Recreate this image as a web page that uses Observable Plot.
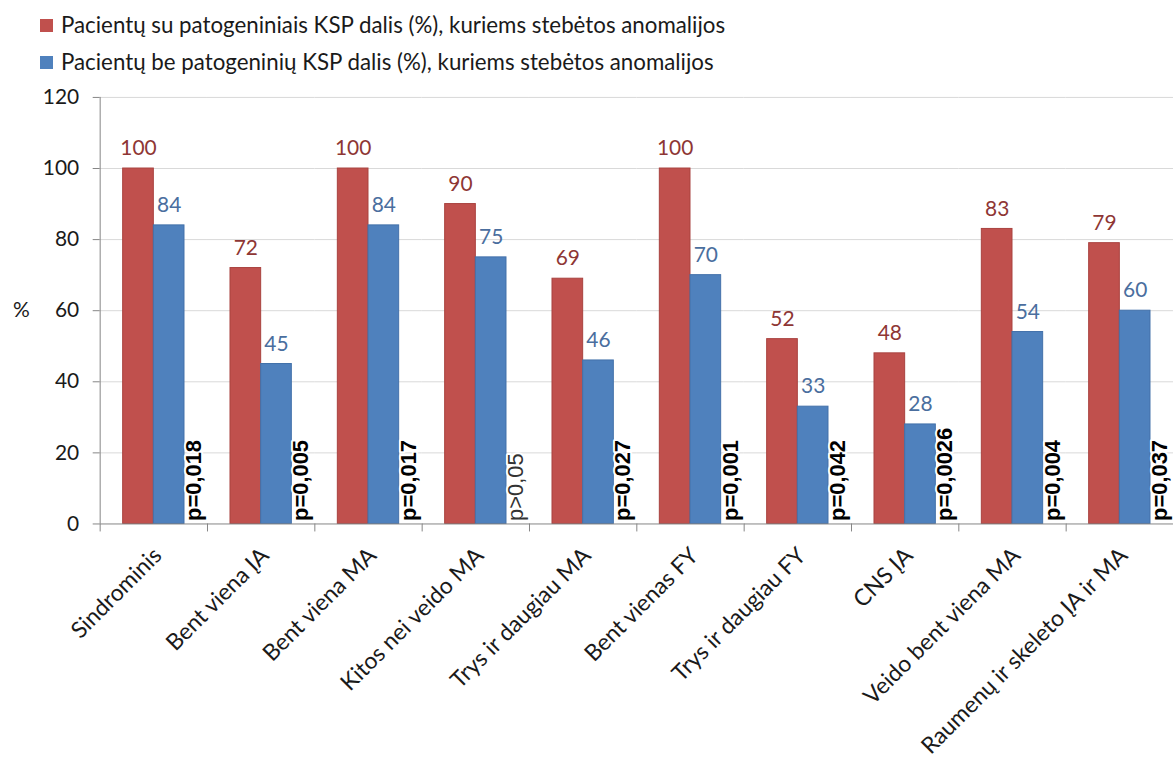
<!DOCTYPE html>
<html lang="lt">
<head>
<meta charset="utf-8">
<script src="https://cdn.jsdelivr.net/npm/d3@7"></script>
<script src="https://cdn.jsdelivr.net/npm/@observablehq/plot@0.6"></script>
<style>
  html, body { margin: 0; padding: 0; background: #fff; overflow: hidden; }
  #wrap { position: relative; width: 1173px; height: 758px; }
  .legend-item { position: absolute; left: 40px; display: flex; align-items: center; line-height: 26px;
    font-family: Lato, "Open Sans", sans-serif; font-size: 22.3px; color: #1a1a1a; white-space: nowrap; }
  .swatch { width: 13px; height: 13px; margin-right: 8px; }
  #chart { position: absolute; left: 0; top: 75px; }
</style>
</head>
<body>
<div id="wrap">
  <div id="legend"></div>
  <div id="chart"></div>
</div>
<script>
// Anomaly frequency in patients with / without pathogenic CNVs (KSP)
const categories = [
  "Sindrominis", "Bent viena ĮA", "Bent viena MA", "Kitos nei veido MA",
  "Trys ir daugiau MA", "Bent vienas FY", "Trys ir daugiau FY", "CNS ĮA",
  "Veido bent viena MA", "Raumenų ir skeleto ĮA ir MA"
];
const seriesNames = [
  "Pacientų su patogeniniais KSP dalis (%), kuriems stebėtos anomalijos",
  "Pacientų be patogeninių KSP dalis (%), kuriems stebėtos anomalijos"
];
const withKSP = [100, 72, 100, 90, 69, 100, 52, 48, 83, 79];
const withoutKSP = [84, 45, 84, 75, 46, 70, 33, 28, 54, 60];
const pLabels = ["p=0,018", "p=0,005", "p=0,017", "p>0,05", "p=0,027",
                 "p=0,001", "p=0,042", "p=0,0026", "p=0,004", "p=0,037"];
const yTicks = [0, 20, 40, 60, 80, 100, 120];

const barColors = ["#C0504D", "#4F81BD"];
const edgeColors = ["#A9423F", "#4371AA"];
const labelColors = ["#8E3634", "#4A6E9E"];

// legend
const legend = document.getElementById("legend");
seriesNames.forEach((name, i) => {
  const item = document.createElement("div");
  item.className = "legend-item";
  item.style.top = (i === 0 ? 12 : 49) + "px";
  const sw = document.createElement("span");
  sw.className = "swatch";
  sw.style.background = barColors[i];
  const tx = document.createElement("span");
  tx.textContent = name;
  item.append(sw, tx);
  legend.append(item);
});

const rows = categories.flatMap((c, i) => [
  {category: c, series: seriesNames[0], value: withKSP[i]},
  {category: c, series: seriesNames[1], value: withoutKSP[i]}
]);
const rowsA = rows.filter(d => d.series === seriesNames[0]);
const rowsB = rows.filter(d => d.series === seriesNames[1]);
const pRows = categories.map((c, i) => ({category: c, p: pLabels[i]}));
const pBold = pRows.filter(d => !d.p.startsWith("p>"));
const pPlain = pRows.filter(d => d.p.startsWith("p>"));

const W = 1177, ML = 100, MT = 22, MB = 233, H = 683;
const step = (W - ML) / categories.length;
const plotH = H - MT - MB;
const axisGray = "#868686";

const pStyle = {
  fx: "category", x: () => seriesNames[1], frameAnchor: "bottom", text: "p",
  rotate: -90, textAnchor: "start", lineAnchor: "middle", dx: 25, dy: -3,
  fontFamily: "'Liberation Sans', Arial, sans-serif", fontSize: 22,
  stroke: "#fff", strokeWidth: 4
};

const chart = Plot.plot({
  width: W, height: H,
  marginLeft: ML, marginRight: 0, marginTop: MT, marginBottom: MB,
  style: {fontFamily: "Lato, 'Open Sans', sans-serif", fontSize: "21px", color: "#1a1a1a", background: "transparent"},
  fx: {domain: categories, padding: 0, round: false, label: null},
  x: {domain: seriesNames, paddingInner: 0, paddingOuter: 0.75, round: false, axis: null},
  y: {domain: [0, 120], label: null},
  marks: [
    Plot.gridY(yTicks.filter(t => t > 0), {stroke: "#d9d9d9", strokeOpacity: 1}),
    Plot.axisY({ticks: yTicks, tickSize: 7, tickPadding: 14, label: null, stroke: axisGray, fill: "#1a1a1a", fontSize: 21}),
    Plot.ruleX([categories[0]], {fx: d => d, x: null, y1: 0, y2: 120, dx: -step / 2, stroke: axisGray}),
    Plot.frame({anchor: "left", insetTop: plotH, insetBottom: -7, stroke: axisGray}),
    Plot.barY(rowsA, {fx: "category", x: "series", y: "value", fill: barColors[0], stroke: edgeColors[0], strokeWidth: 1}),
    Plot.barY(rowsB, {fx: "category", x: "series", y: "value", fill: barColors[1], stroke: edgeColors[1], strokeWidth: 1}),
    Plot.ruleY([0], {stroke: axisGray}),
    Plot.text(rowsA, {fx: "category", x: "series", y: "value", text: "value", dy: -20, fill: labelColors[0], fontSize: 21}),
    Plot.text(rowsB, {fx: "category", x: "series", y: "value", text: "value", dy: -20, fill: labelColors[1], fontSize: 21}),
    Plot.text(pBold, {...pStyle, fontWeight: "bold", fill: "#000"}),
    Plot.text(pPlain, {...pStyle, fontWeight: "normal", fill: "#333"}),
    Plot.text(["%"], {fx: () => categories[0], frameAnchor: "left", textAnchor: "middle", dx: -79, fontSize: 21, fill: "#1a1a1a"}),
    Plot.axisFx({anchor: "bottom", tickRotate: -45, tickSize: 0, tickPadding: 28, dx: 4, label: null, fontSize: 23, fill: "#1a1a1a"})
  ]
});
document.getElementById("chart").append(chart);
</script>
</body>
</html>
